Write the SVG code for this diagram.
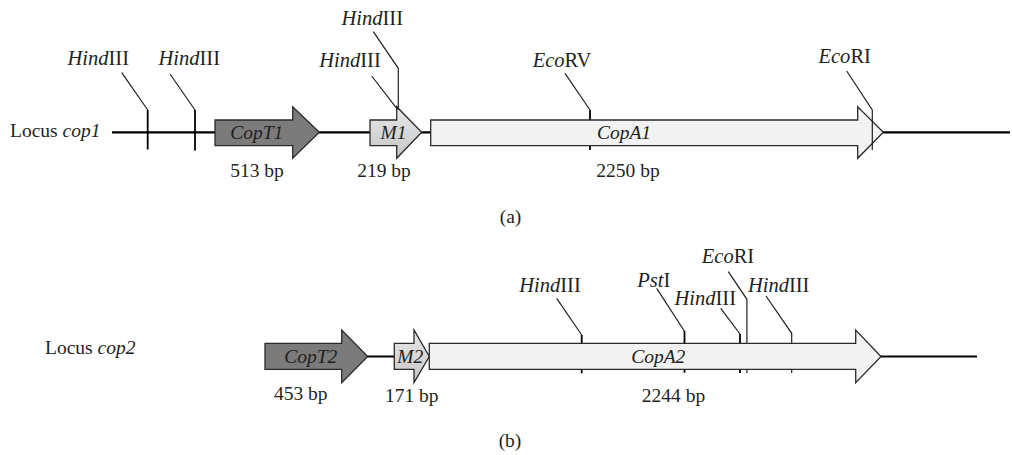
<svg xmlns="http://www.w3.org/2000/svg" width="1012" height="455" viewBox="0 0 1012 455">
<style>
text{font-family:"Liberation Serif","Times New Roman",serif;font-size:19.5px;fill:#231f20}
.c{text-anchor:middle}
.i{font-style:italic}
.re{font-size:20.5px}
.main{stroke:#000;stroke-width:2.2;fill:none}
.diag{stroke:#231f20;stroke-width:1.2;fill:none}
.vt{stroke:#000;stroke-width:1.8;fill:none}
.dark{fill:#7b7b7b;stroke:#2a2a2a;stroke-width:1.3}
.mid{fill:url(#g);stroke:#2a2a2a;stroke-width:1.3}
.light{fill:#f1f2f1;stroke:#2a2a2a;stroke-width:1.3}
</style>
<defs>
<linearGradient id="g" x1="0" y1="0" x2="0" y2="1">
<stop offset="0" stop-color="#e8e8e8"/>
<stop offset="1" stop-color="#c6c6c6"/>
</linearGradient>
</defs>

<!-- (a) locus cop1 -->
<g id="connectors-a">
<line class="main" x1="112" y1="132.3" x2="1010" y2="132.3"/>
<path class="diag" d="M121.7,72.7 L147.7,110"/>
<line class="vt" x1="147.7" y1="110" x2="147.7" y2="149.5"/>
<path class="diag" d="M170,74 L195,110"/>
<line class="vt" x1="195" y1="110" x2="195" y2="150.5"/>
<path class="diag" d="M565,73.3 L590,110"/>
<line class="vt" x1="590" y1="110" x2="590" y2="150"/>
</g>
<text x="10" y="137">Locus <tspan class="i">cop1</tspan></text>
<text class="c re" x="98.3" y="65"><tspan class="i">Hind</tspan>III</text>
<text class="c re" x="189.3" y="65"><tspan class="i">Hind</tspan>III</text>
<text class="c re" x="372.3" y="25"><tspan class="i">Hind</tspan>III</text>
<text class="c re" x="350" y="66.7"><tspan class="i">Hind</tspan>III</text>
<text class="c re" x="562" y="66.7"><tspan class="i">Eco</tspan>RV</text>
<text class="c re" x="844.7" y="63.3"><tspan class="i">Eco</tspan>RI</text>

<g id="CopT1">
<polygon class="dark" points="215,120 292.7,120 292.7,106.7 319.3,132.3 292.7,158.3 292.7,145.7 215,145.7"/>
<text class="c i" x="256.7" y="139">CopT1</text>
<text class="c" x="257" y="176.5">513 bp</text>
</g>
<g id="M1">
<polygon class="mid" points="370,120 396.7,120 396.7,106.7 421.7,132.3 396.7,158.3 396.7,145.7 370,145.7"/>
<text class="c i" x="393.5" y="139">M1</text>
<text class="c" x="384" y="176.5">219 bp</text>
</g>
<g id="CopA1">
<polygon class="light" points="430.7,120 857.7,120 857.7,106.7 883.3,132.3 857.7,158.3 857.7,145.7 430.7,145.7"/>
<text class="c i" x="624" y="139">CopA1</text>
<text class="c" x="628" y="176.7">2250 bp</text>
</g>
<g id="connectors-a-top">
<path class="diag" d="M373.3,31.7 L398.3,68.3 L398.3,110"/>
<path class="diag" d="M371.7,76 L396.7,108.3"/>
<path class="diag" d="M846.7,71 L872.3,110 L872.3,150"/>
</g>
<text class="c" x="510.5" y="223">(a)</text>

<!-- (b) locus cop2 -->
<g id="connectors-b">
<line class="main" x1="367" y1="356.5" x2="977" y2="356.5"/>
<path class="diag" d="M556.7,298.3 L581.7,335"/>
<line class="vt" x1="581.7" y1="335" x2="581.7" y2="373.3"/>
<path class="diag" d="M656.7,288.3 L684.3,331"/>
<line class="vt" x1="684.5" y1="331" x2="684.5" y2="372.7"/>
<path class="diag" d="M720.7,308.3 L740,334"/>
<line class="vt" x1="740" y1="334" x2="740" y2="373"/>
<path class="diag" d="M728.3,271.7 L746.9,299.3 L746.9,373"/>
<path class="diag" d="M766,296 L791.7,333.3 L791.7,373"/>
</g>
<text x="45" y="354">Locus <tspan class="i">cop2</tspan></text>
<text class="c re" x="550" y="291.7"><tspan class="i">Hind</tspan>III</text>
<text class="c re" x="653.7" y="286.7"><tspan class="i">Pst</tspan>I</text>
<text class="c re" x="705.3" y="305"><tspan class="i">Hind</tspan>III</text>
<text class="c re" x="728" y="263.3"><tspan class="i">Eco</tspan>RI</text>
<text class="c re" x="778.7" y="291.7"><tspan class="i">Hind</tspan>III</text>

<g id="CopT2">
<polygon class="dark" points="265,343.3 341.7,343.3 341.7,330 367.7,356.5 341.7,382.7 341.7,369.3 265,369.3"/>
<text class="c i" x="310.8" y="362.7">CopT2</text>
<text class="c" x="300.8" y="400">453 bp</text>
</g>
<g id="M2">
<polygon class="mid" points="394.3,343.3 414,343.3 414,330 429.3,356.5 414,382.7 414,369.3 394.3,369.3"/>
<text class="c i" x="410.3" y="362.7">M2</text>
<text class="c" x="411.7" y="401.7">171 bp</text>
</g>
<g id="CopA2">
<polygon class="light" points="429.3,343.3 855.7,343.3 855.7,330 881,356.5 855.7,382.7 855.7,369.3 429.3,369.3"/>
<text class="c i" x="658.3" y="363">CopA2</text>
<text class="c" x="673.5" y="401.7">2244 bp</text>
</g>
<text class="c" x="510" y="446.7">(b)</text>
</svg>
